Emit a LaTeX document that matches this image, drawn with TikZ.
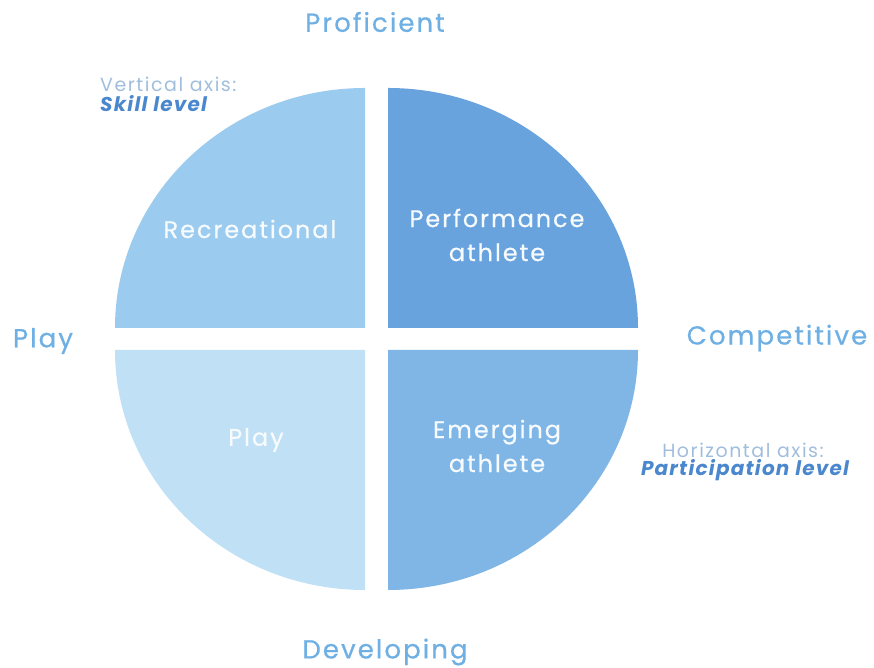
\documentclass[tikz,border=0pt]{standalone}
\usepackage{fontspec}
\setmainfont{Poppins}
\usetikzlibrary{positioning}

\begin{document}
\begin{tikzpicture}[x=1pt, y=1pt]
    \definecolor{qtl}{RGB}{155,203,238}
    \definecolor{qtr}{RGB}{104,163,222}
    \definecolor{qbl}{RGB}{192,224,245}
    \definecolor{qbr}{RGB}{128,182,230}
    \definecolor{axtxt}{RGB}{110,175,228}
    \definecolor{notetxt}{RGB}{160,190,220}
    \definecolor{keytxt}{RGB}{75,135,205}

    \tikzstyle{quad}  = [draw=none]
    \tikzstyle{inner} = [text=white!92!qtl, font=\fontsize{24}{34}\selectfont\addfontfeatures{LetterSpace=8, FakeBold=0.4}, align=center]
    \tikzstyle{axis}  = [text=axtxt, font=\fontsize{26}{30}\selectfont\addfontfeatures{LetterSpace=8, FakeBold=0.6}]
    \tikzstyle{note}  = [text=notetxt, font=\fontsize{19}{20}\selectfont\addfontfeatures{LetterSpace=8}, inner sep=0pt]
    \tikzstyle{key}   = [text=keytxt, font=\fontsize{20}{20}\selectfont\bfseries\itshape\addfontfeatures{LetterSpace=6}, inner sep=0pt]

    \useasboundingbox (0,0) rectangle (874,668);

    % the four quarters
    \fill[quad, qtl] (365,340) -- (115,340) arc[start angle=180, end angle=90,  x radius=250, y radius=240] -- cycle;
    \fill[quad, qtr] (388,340) -- (388,580) arc[start angle=90,  end angle=0,   x radius=250, y radius=240] -- cycle;
    \fill[quad, qbl] (365,318) -- (115,318) arc[start angle=180, end angle=270, x radius=250, y radius=240] -- cycle;
    \fill[quad, qbr] (388,318) -- (638,318) arc[start angle=0,   end angle=-90, x radius=250, y radius=240] -- cycle;

    % labels inside
    \node[inner] (recr) at (250,439) {Recreational};
    \node[inner] (perf) at (497,433) {Performance\\athlete};
    \node[inner] (play) at (256,228) {Play};
    \node[inner] (emer) at (497,222) {Emerging\\athlete};

    % axis ends
    \node[axis] (prof) at (375,646) {Proficient};
    \node[axis] (devl) at (385,16)  {Developing};
    \node[axis] (plax) at (43,327)  {Play};
    \node[axis] (comp) at (777,330) {Competitive};

    % axis notes
    \node[note, anchor=west] (vax) at (100,584) {Vertical axis:};
    \node[key, anchor=west]  (skl) at (100,564) {Skill level};
    \node[note] (hax) at (743,218) {Horizontal axis:};
    \node[key]  (par) at (745,198) {Participation level};
\end{tikzpicture}
\end{document}
